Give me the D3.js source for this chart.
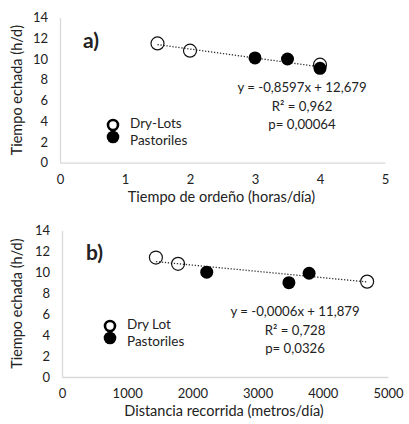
<!DOCTYPE html>
<html>
<head>
<meta charset="utf-8">
<script src="https://cdn.jsdelivr.net/npm/d3@7"></script>
<style>
  body { margin: 0; background: #fff; }
  svg text { font-family: Lato, "Open Sans", sans-serif; fill: #222; }
</style>
</head>
<body>
<svg id="chart" width="409" height="424"></svg>
<script>
// panel a: Tiempo de ordeño vs tiempo echada
var ordenoDry = [1.5, 2, 4];
var echadaDryA = [11.5, 10.8, 9.45];
var ordenoPast = [3, 3.5, 4];
var echadaPastA = [10.1, 10.0, 9.1];
var fitA = { slope: -0.8597, icpt: 12.679, from: 1.5, to: 4 };
var textA = ["y = -0,8597x + 12,679", "R² = 0,962", "p= 0,00064"];
var legendA = ["Dry-Lots", "Pastoriles"];

// panel b: distancia recorrida vs tiempo echada
var distDry = [1440, 1780, 4680];
var echadaDryB = [11.4, 10.8, 9.1];
var distPast = [2220, 3480, 3790];
var echadaPastB = [10.0, 9.0, 9.9];
var fitB = { slope: -0.0006, icpt: 11.879, from: 1440, to: 4680 };
var textB = ["y = -0,0006x + 11,879", "R² = 0,728", "p= 0,0326"];
var legendB = ["Dry Lot", "Pastoriles"];

var yTicks = [0, 2, 4, 6, 8, 10, 12, 14];

var svg = d3.select("#chart");

function panel(opt) {
    var g = svg.append("g");
    var x = d3.scaleLinear().domain(opt.xDomain).range([opt.left, opt.right]);
    var y = d3.scaleLinear().domain([0, 14]).range([opt.bottom, opt.top]);

    // axes, light gray lines without ticks
    var xAxis = g.append("g")
        .attr("transform", "translate(0," + opt.bottom + ")")
        .call(d3.axisBottom(x).tickValues(opt.xTicks).tickFormat(d3.format("d"))
            .tickSize(0).tickPadding(12));
    var yAxis = g.append("g")
        .attr("transform", "translate(" + opt.left + ",0)")
        .call(d3.axisLeft(y).tickValues(yTicks).tickFormat(d3.format("d"))
            .tickSize(0).tickPadding(12));
    [xAxis, yAxis].forEach(function (a) {
        a.select(".domain").attr("stroke", "#d9d9d9").attr("stroke-width", 1.3);
        a.selectAll("text").style("font-size", "13px").attr("fill", "#222");
    });

    // axis titles
    g.append("text")
        .attr("x", (opt.left + opt.right) / 2 - 1)
        .attr("y", opt.bottom + 39)
        .attr("text-anchor", "middle")
        .style("font-size", "14.5px")
        .text(opt.xTitle);
    g.append("text")
        .attr("transform", "translate(22," + ((opt.top + opt.bottom) / 2) + ") rotate(-90)")
        .attr("text-anchor", "middle")
        .style("font-size", "14.5px")
        .text("Tiempo echada (h/d)");

    // trend line, dotted
    g.append("line")
        .attr("x1", x(opt.fit.from)).attr("y1", y(opt.fit.slope * opt.fit.from + opt.fit.icpt))
        .attr("x2", x(opt.fit.to)).attr("y2", y(opt.fit.slope * opt.fit.to + opt.fit.icpt))
        .attr("stroke", "#333")
        .attr("stroke-width", 1.3)
        .attr("stroke-dasharray", "1.3,1.7");

    // points
    g.selectAll(".dry")
        .data(d3.zip(opt.dryX, opt.dryY))
        .enter().append("circle")
        .attr("cx", function (d) { return x(d[0]); })
        .attr("cy", function (d) { return y(d[1]); })
        .attr("r", 6.5)
        .attr("fill", "none")
        .attr("stroke", "#111")
        .attr("stroke-width", 1.2);
    g.selectAll(".past")
        .data(d3.zip(opt.pastX, opt.pastY))
        .enter().append("circle")
        .attr("cx", function (d) { return x(d[0]); })
        .attr("cy", function (d) { return y(d[1]); })
        .attr("r", 6.5)
        .attr("fill", "#000");

    // panel label
    g.append("text")
        .attr("x", opt.lblX).attr("y", opt.top + 30)
        .style("font-size", "21px")
        .style("font-weight", "bold")
        .text(opt.label);

    // regression text
    g.selectAll(".eq")
        .data(opt.eq)
        .enter().append("text")
        .attr("x", opt.eqX)
        .attr("y", function (d, i) { return opt.eqY + i * 18.5; })
        .attr("text-anchor", "middle")
        .style("font-size", "13.2px")
        .text(function (d) { return d; });

    // legend
    g.append("circle")
        .attr("cx", opt.legX).attr("cy", opt.legY)
        .attr("r", 5)
        .attr("fill", "#fff")
        .attr("stroke", "#000")
        .attr("stroke-width", 2.6);
    g.append("circle")
        .attr("cx", opt.legX).attr("cy", opt.legY + 12)
        .attr("r", 6.3)
        .attr("fill", "#000");
    g.selectAll(".leg")
        .data(opt.legend)
        .enter().append("text")
        .attr("x", opt.legX + 17)
        .attr("y", function (d, i) { return opt.legY + 3 + i * 17; })
        .style("font-size", "13.5px")
        .text(function (d) { return d; });
}

panel({
    xDomain: [0, 5], xTicks: [0, 1, 2, 3, 4, 5],
    left: 60, right: 385, top: 17.5, bottom: 162.7,
    xTitle: "Tiempo de ordeño (horas/día)",
    dryX: ordenoDry, dryY: echadaDryA,
    pastX: ordenoPast, pastY: echadaPastA,
    fit: fitA, label: "a)", lblX: 83,
    eq: textA, eqX: 302, eqY: 92,
    legend: legendA, legX: 113, legY: 125
});

panel({
    xDomain: [0, 5000], xTicks: [0, 1000, 2000, 3000, 4000, 5000],
    left: 62, right: 388, top: 230.3, bottom: 377,
    xTitle: "Distancia recorrida (metros/día)",
    dryX: distDry, dryY: echadaDryB,
    pastX: distPast, pastY: echadaPastB,
    fit: fitB, label: "b)", lblX: 86,
    eq: textB, eqX: 295, eqY: 316,
    legend: legendB, legX: 110, legY: 326
});
</script>
</body>
</html>
